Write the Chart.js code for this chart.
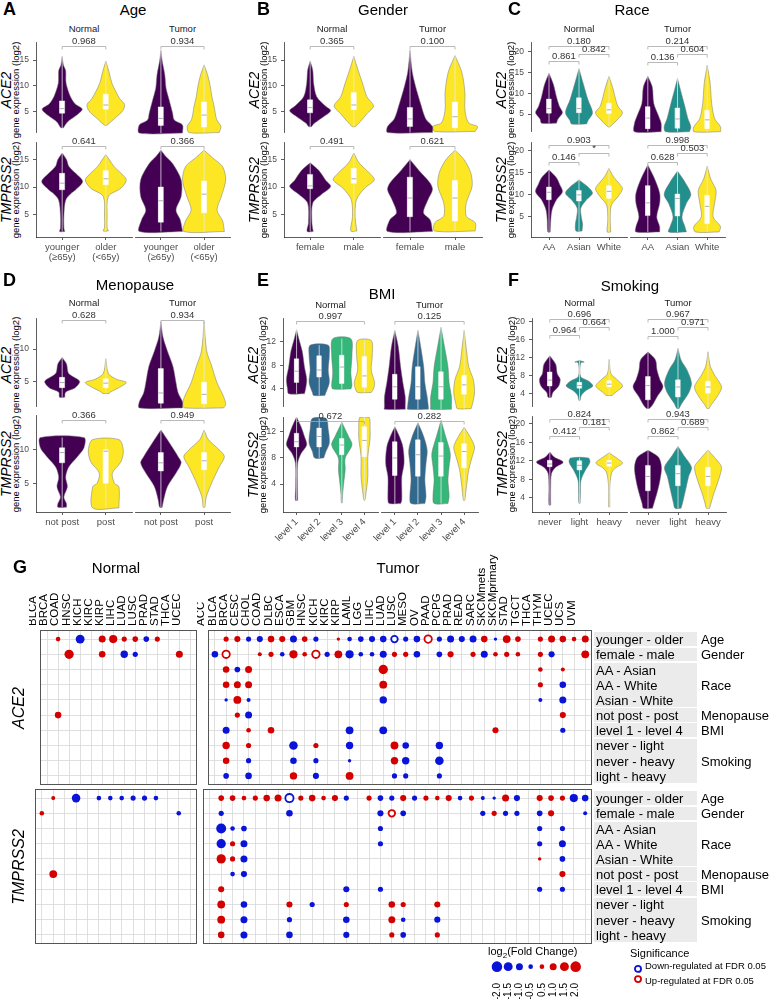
<!DOCTYPE html>
<html>
<head>
<meta charset="utf-8">
<script src="https://cdn.jsdelivr.net/npm/chart.js@4.4.1/dist/chart.umd.min.js"></script>
<style>
html,body{margin:0;padding:0;background:#fff}
body{position:relative;width:772px;height:1002px;overflow:hidden;font-family:"Liberation Sans",Arial,sans-serif;color:#000}
canvas{position:absolute}
.t{position:absolute;white-space:nowrap;line-height:1}
.gb{position:absolute;background:#ebebeb}
</style>
</head>
<body>
<script>
// ---------------- categories ----------------
const ageCats = [['younger','(≥65y)'], ['older','(<65y)']];
const genderCats = ['female','male'];
const raceCats = ['AA','Asian','White'];
const menoCats = ['not post','post'];
const bmiCats = ['level 1','level 2','level 3','level 4'];
const smokeCats = ['never','light','heavy'];

// ---------------- violins: [ [ [value, half width], ... ], [q1, median, q3] ] ----------------
const ageAce2Normal = [
  [[[1.9,.03],[3,.12],[4.2,.31],[5.5,.46],[6.5,.3],[7.9,.19],[10.5,.09],[13,.08],[14,.03],[15.7,0]],[4.7,5.6,7.1]],
  [[[2.4,.03],[3.6,.19],[5.2,.39],[6.4,.43],[7.5,.32],[8.9,.23],[10.5,.14],[12.5,.08],[14.8,0]],[5.5,6.3,8.4]]];
const ageAce2Tumor = [
  [[[1.8,.5],[3.3,.5],[4.2,.31],[5.5,.27],[7.9,.19],[10,.12],[12.5,.09],[15,.03],[17,0]],[3.2,4.5,6.6]],
  [[[1.9,.35],[3,.39],[4.3,.29],[6.8,.23],[8.5,.18],[10.5,.14],[12.5,.08],[14.3,0]],[2.9,5.1,7.5]]];
const ageTmprss2Normal = [
  [[[1.9,.06],[2.5,.04],[4.9,.04],[7.6,.08],[8.8,.2],[9.5,.31],[11,.47],[12.5,.31],[13.8,.15],[15,.1],[16.2,0]],[9.5,10.7,12.5]],
  [[[2,.06],[2.6,.03],[4.6,.03],[8.3,.06],[9.8,.35],[11.3,.47],[12.5,.35],[13.7,.19],[15,.08],[15.9,0]],[10.4,11.5,13.0]]];
const ageTmprss2Tumor = [
  [[[1.9,.5],[4,.45],[5.8,.35],[8.3,.47],[11.3,.47],[14.3,.27],[15.5,.12],[16.7,0]],[3.6,7.5,10.0]],
  [[[1.9,.47],[3.8,.43],[5.8,.3],[8.3,.4],[11.3,.5],[13.7,.43],[15.3,.2],[16.7,0]],[5.3,8.7,11.1]]];

const genderAce2Normal = [
  [[[2.1,.03],[2.8,.1],[4,.3],[5.2,.47],[6.1,.35],[7.9,.15],[10.5,.08],[13,.06],[14.8,0]],[4.8,5.8,7.3]],
  [[[2.1,.03],[3.1,.15],[4.6,.3],[6.1,.45],[7.9,.3],[10.5,.2],[13,.1],[15.7,0]],[5.4,6.3,8.7]]];
const genderAce2Tumor = [
  [[[1.9,.5],[3,.5],[4.4,.35],[6.8,.25],[10.5,.12],[13,.05],[17,0]],[3.0,4.4,6.5]],
  [[[2.1,.45],[3,.5],[3.7,.3],[6.1,.22],[9.3,.22],[13,.15],[16,0]],[2.8,4.8,7.5]]];
const genderTmprss2Normal = [
  [[[1.9,.07],[3.5,.04],[7.1,.06],[8.6,.25],[10.1,.47],[11.3,.35],[13,.2],[14.4,0]],[9.7,10.2,12.3]],
  [[[2,.07],[4.6,.03],[7.7,.06],[9.8,.25],[11.3,.47],[12.6,.35],[14.4,.12],[16.2,0]],[10.7,11.5,13.4]]];
const genderTmprss2Tumor = [
  [[[1.9,.5],[4,.45],[5.3,.3],[7.7,.4],[9.5,.5],[10.7,.45],[13,.2],[15,0]],[4.6,8.0,11.8]],
  [[[2,.45],[3.5,.45],[4.7,.25],[7.1,.25],[10.1,.38],[12.6,.35],[15,.2],[16.7,0]],[3.8,8.0,11.2]]];

const raceAce2Normal = [
  [[[2.8,.25],[3.8,.3],[5.3,.45],[6.8,.35],[9.1,.25],[12.1,.15],[14.8,0]],[5.2,6.3,8.6]],
  [[[2.6,.25],[3.4,.3],[5.3,.45],[8.4,.3],[12.1,.15],[15.9,0]],[5.3,6.3,8.9]],
  [[[1.9,.03],[3.8,.3],[5.3,.45],[6.8,.3],[9.1,.2],[11.4,.12],[14,0]],[5.1,6.0,7.6]]];
const raceAce2Tumor = [
  [[[1.9,.45],[3.8,.45],[5.7,.35],[8.4,.2],[12.1,.15],[14.5,0]],[2.6,5.0,7.6]],
  [[[1.9,.4],[3,.45],[4.9,.35],[7.6,.25],[11.4,.1],[14,0]],[2.7,4.8,7.3]],
  [[[1.9,.45],[3,.45],[4.9,.25],[8.4,.15],[12.9,.1],[17,0]],[2.6,4.6,6.8]]];
const raceTmprss2Normal = [
  [[[1.6,.04],[4.3,.06],[6.6,.1],[8.9,.25],[10.7,.45],[12.5,.35],[13.9,.25],[15.7,0]],[8.9,10.6,11.8]],
  [[[1.8,.1],[3.4,.12],[4.9,.08],[7,.06],[8.9,.25],[10.4,.45],[11.8,.3],[13.4,0]],[8.6,10.0,11.0]],
  [[[1.6,.06],[4.3,.04],[7.7,.08],[9.6,.3],[11.4,.45],[12.5,.35],[14.1,.15],[16,0]],[9.2,10.8,12.1]]];
const raceTmprss2Tumor = [
  [[[1.6,.4],[2.8,.4],[5,.3],[8.1,.4],[10.4,.4],[14.1,.2],[16.8,0]],[5.3,8.2,12.1]],
  [[[1.6,.3],[2.8,.25],[5,.15],[8.1,.3],[10.1,.45],[12.9,.25],[15.4,0]],[5.2,9.2,10.2]],
  [[[1.6,.4],[2.8,.45],[5,.2],[8.1,.25],[11,.3],[13.6,.12],[16.5,0]],[3.5,7.4,9.9]]];

const menoAce2Normal = [
  [[[2.5,.06],[3.3,.08],[4,.3],[5,.4],[6.2,.15],[7.7,.1],[8.7,0]],[4.0,4.8,5.6]],
  [[[3.1,.08],[3.3,.1],[4,.3],[4.8,.47],[5.3,.25],[6.2,.06],[8.5,0]],[4.0,4.7,5.4]]];
const menoAce2Tumor = [
  [[[1.6,.5],[2.5,.5],[3.8,.4],[5.3,.35],[7.7,.28],[10,.15],[12,.05],[14.3,0]],[2.3,3.8,7.4]],
  [[[1.6,.45],[2.1,.5],[3.3,.45],[5.3,.3],[7.7,.18],[10,.06],[14.3,0]],[2.2,3.6,5.4]]];
const menoTmprss2Normal = [
  [[[1.6,.1],[2.1,.1],[3.1,.04],[4.6,.12],[6,.08],[7.5,.15],[9,.35],[10.3,.5],[11.8,.5]],[8.1,9.6,10.3]],
  [[[1.5,.3],[4.6,.3],[5.1,.2],[6.6,.15],[8.3,.35],[10,.4],[11.5,.3]],[5.1,9.8,10.0]]];
const menoTmprss2Tumor = [
  [[[1.6,.03],[2.6,.06],[4.6,.15],[6.6,.35],[8.1,.47],[9,.4],[11,.2],[12.9,0]],[6.9,8.1,9.6]],
  [[[1.6,.02],[3.1,.05],[5.5,.2],[7.5,.35],[9,.47],[10,.35],[11.5,.1],[12.9,0]],[7.1,8.4,9.6]]];

const bmiAce2Normal = [
  [[[3.2,.35],[4,.4],[5.6,.45],[7.7,.35],[10.4,.25],[12.5,.1],[14,0]],[5.1,7.0,9.1]],
  [[[2.9,.25],[3.4,.3],[5.1,.45],[7.2,.4],[9.8,.45],[11.4,.4]],[6.0,7.2,9.6]],
  [[[4,.4],[4.6,.45],[6.7,.4],[9.8,.45],[12.5,.4]],[4.9,7.7,9.7]],
  [[[3.4,.3],[4,.4],[5.1,.45],[7.2,.3],[9.8,.35],[12.2,.3]],[4.3,6.2,9.5]]];
const bmiAce2Tumor = [
  [[[1.4,.45],[1.8,.45],[3.4,.45],[5.6,.35],[8.2,.25],[11.4,.15],[14,0]],[3.0,5.0,7.0]],
  [[[1.4,.45],[1.8,.45],[3.4,.4],[5.6,.3],[8.2,.25],[11.4,.12],[14,0]],[3.0,5.0,8.2]],
  [[[1.4,.45],[1.8,.45],[3.4,.45],[5.6,.35],[8.2,.3],[11.4,.15],[14.5,0]],[3.0,5.0,7.4]],
  [[[1.5,.3],[2.1,.35],[4,.45],[6.1,.4],[8.2,.2],[10.9,.1],[14,0]],[3.8,5.3,6.8]]];
const bmiTmprss2Normal = [
  [[[1.5,.05],[3.6,.04],[7.2,.05],[8.7,.2],[10,.45],[11.3,.35],[12.8,.2],[14.3,0]],[9.7,10.5,11.8]],
  [[[8,.2],[9,.3],[10.3,.45],[12.4,.4],[14.1,.3]],[9.7,11.3,12.6]],
  [[[1.1,.02],[2.6,.04],[4.6,.1],[6.2,.15],[8,.15],[10,.45],[11.3,.3],[13.5,0]],[8.5,10.0,11.0]],
  [[[1.5,.02],[2.1,.05],[5.1,.15],[8.2,.15],[11,.25],[12.4,.25],[14.3,.2]],[8.2,10.7,12.8]]];
const bmiTmprss2Tumor = [
  [[[1,.25],[1.5,.3],[3.1,.3],[5.1,.3],[7.2,.4],[9.7,.35],[11.3,.2],[12.8,0]],[5.3,8.0,10.5]],
  [[[1,.3],[2.1,.35],[4.6,.3],[7.2,.35],[9.2,.4],[11.3,.25],[13.4,0]],[5.2,8.5,10.8]],
  [[[1,.3],[2.1,.35],[4.6,.3],[6.7,.35],[8.7,.4],[11.3,.2],[13.8,0]],[5.2,8.3,10.4]],
  [[[1.5,.03],[3.6,.1],[6.2,.2],[8.2,.35],[9.7,.45],[11.3,.25],[12.7,0]],[6.5,9.0,10.2]]];

const smokeAce2Normal = [
  [[[3.2,.06],[4.2,.1],[5.7,.3],[7.2,.35],[8.4,.25],[10.5,.2],[12.4,0]],[5.7,7.0,8.8]],
  [[[2.5,.02],[3.6,.06],[4.6,.2],[5.7,.45],[6.8,.3],[7.8,.04],[10.8,.04],[11,.16],[11.3,.02]],[5.2,5.8,6.5]],
  [[[3.6,.1],[4.2,.2],[5.7,.45],[7.2,.25],[8.4,.06],[11.6,0]],[5.5,6.1,6.9]]];
const smokeAce2Tumor = [
  [[[1.8,.05],[2.5,.15],[4.2,.3],[6.3,.5],[7.8,.4],[9.9,.3],[12,.25],[13.7,0]],[3.6,6.6,8.5]],
  [[[1.8,.04],[2.8,.12],[5,.35],[7.1,.45],[9.9,.3],[12,.1],[14.4,0]],[4.2,6.3,7.8]],
  [[[1.8,.04],[2.5,.1],[4.2,.3],[6.3,.45],[8.5,.25],[10.6,.08],[13.7,0]],[5.0,6.3,7.5]]];
const smokeTmprss2Normal = [
  [[[2.4,.03],[6.3,.03],[9.3,.06],[10.6,.2],[11.7,.45],[12.8,.15],[13.9,0]],[10.7,11.3,12.1]],
  [[[2.8,.02],[5,.03],[7.8,.05],[10,.2],[11.7,.35],[12.6,.3]],[10.0,11.0,12.0]],
  [[[2,.02],[6.3,.02],[9.3,.08],[10.4,.2],[11.5,.45],[12.6,.25],[13.7,0]],[10.8,11.5,12.1]]];
const smokeTmprss2Tumor = [
  [[[1.7,.15],[2.8,.2],[5,.3],[7.8,.4],[10.6,.45],[12.8,.35],[14.3,0]],[5.5,8.6,11.0]],
  [[[1.7,.1],[2.8,.15],[5.6,.25],[8.5,.35],[10.6,.45],[13.1,.2],[15.1,0]],[6.6,9.2,11.0]],
  [[[1.7,.05],[2.8,.1],[5,.2],[7.8,.35],[10.6,.45],[12.1,.3],[14.3,0]],[6.6,8.6,10.6]]];

// ---------------- p-values: [ACE2 normal, ACE2 tumor, TMPRSS2 normal, TMPRSS2 tumor] ----------------
const ageP = [['0.968'],['0.934'],['0.641'],['0.366']];
const genderP = [['0.365'],['0.100'],['0.491'],['0.621']];
const raceP = [['0.180','0.842','0.861'],['0.214','0.604','0.136'],['0.903','*','0.146'],['0.998','0.503','0.628']];
const menoP = [['0.628'],['0.934'],['0.366'],['0.949']];
const bmiP = [['0.997'],['0.125'],['0.672'],['0.282']];
const smokeP = [['0.696','0.664','0.964'],['0.967','0.971','1.000'],['0.824','0.181','0.412'],['0.943','0.689','0.862']];

// ---------------- panel G: log2 fold changes [cancer type, comparison row, log2FC, significant] ----------------
const normalTypes = ['BLCA','BRCA','COAD','HNSC','KICH','KIRC','KIRP','LIHC','LUAD','LUSC','PRAD','STAD','THCA','UCEC'];
const tumorTypes = ['ACC','BLCA','BRCA','CESC','CHOL','COAD','DLBC','ESCA','GBM','HNSC','KICH','KIRC','KIRP','LAML','LGG','LIHC','LUAD','LUSC','MESO','OV','PAAD','PCPG','PRAD','READ','SARC','SKCMmets','SKCMprimary','STAD','TGCT','THCA','THYM','UCEC','UCS','UVM'];
const comparisons = ['younger - older','female - male','AA - Asian','AA - White','Asian - White','not post - post','level 1 - level 4','never - light','never - heavy','light - heavy'];
const comparisonGroups = [['Age',0,0],['Gender',1,1],['Race',2,4],['Menopause',5,5],['BMI',6,6],['Smoking',7,9]];

const ace2NormalFC = [
  ['BRCA',0,.5],['HNSC',0,-1.5],['KIRC',0,1.0],['KIRP',0,1.3],['LIHC',0,.6],['LUAD',0,.7],['LUSC',0,-.7],['PRAD',0,.6],
  ['COAD',1,1.6],['KIRC',1,.9],['LIHC',1,-1.1],['LUAD',1,-.6],['THCA',1,1.0],
  ['BRCA',5,.9]];
const ace2TumorFC = [
  ['BLCA',0,.6],['BRCA',0,.8],['CESC',0,-.6],['CHOL',0,-.8],['COAD',0,.9],['DLBC',0,.8],['ESCA',0,-1.0],['GBM',0,.7],['HNSC',0,-.6],
  ['KIRC',0,.3],['KIRP',0,-.5],['LAML',0,-.7],['LGG',0,-.8],['LIHC',0,-.9],['LUAD',0,-.9,1],['LUSC',0,-.6],['MESO',0,-.9],['OV',0,1.1,1],
  ['PAAD',0,-.6],['PCPG',0,-1.0],['PRAD',0,-.8],['READ',0,-1.0],['SARC',0,.9],['SKCMmets',0,-.3],['SKCMprimary',0,1.2],['STAD',0,.7],
  ['THCA',0,.6],['THYM',0,1.0],['UCEC',0,.9],['UCS',0,.5],['UVM',0,1.0],
  ['ACC',1,-.9],['BLCA',1,1.1,1],['CHOL',1,.4],['COAD',1,.6],['DLBC',1,-.5],['ESCA',1,1.3],['GBM',1,.5],['HNSC',1,1.1,1],['KICH',1,-.6],
  ['KIRC',1,1.2],['KIRP',1,-1.3],['LAML',1,-.5],['LGG',1,-.5],['LIHC',1,-1.0],['LUAD',1,.6],['LUSC',1,.6],['MESO',1,-.9],['PAAD',1,-.7],
  ['PCPG',1,.8],['READ',1,.6],['SARC',1,-1.0],['SKCMmets',1,.5],['SKCMprimary',1,.6],['STAD',1,.5],['THCA',1,.6],['THYM',1,-.8],['UVM',1,1.2],
  ['BLCA',2,.9],['BRCA',2,-.7],['CESC',2,1.0],['LIHC',2,1.6],['THCA',2,.5],['UCEC',2,.4],
  ['BLCA',3,.9],['BRCA',3,1.0],['CESC',3,1.0],['LIHC',3,1.2],['THCA',3,.6],['UCEC',3,-.9],
  ['BLCA',4,-.3],['BRCA',4,1.2],['CESC',4,-.4],['LIHC',4,-1.1],['THCA',4,-.4],['UCEC',4,-1.0],
  ['BRCA',5,.6],['CESC',5,-1.0],['UCEC',5,.8],
  ['BLCA',6,-1.0],['CESC',6,.5],['COAD',6,.9],['KIRP',6,-1.2],['LIHC',6,-1.2],['SKCMmets',6,.8],['UCEC',6,-.6],
  ['BLCA',7,1.1],['CESC',7,.6],['ESCA',7,-1.4],['HNSC',7,.6],['KIRP',7,-1.1],['LUAD',7,1.2],['LUSC',7,-.9],['PAAD',7,-1.1],
  ['BLCA',8,.9],['CESC',8,-.6],['ESCA',8,-.9],['HNSC',8,-.6],['KIRP',8,-.3],['LUAD',8,1.1],['LUSC',8,-1.1],['PAAD',8,-1.4],
  ['BLCA',9,-.7],['CESC',9,-.9],['ESCA',9,1.1],['HNSC',9,-.8],['KIRP',9,1.2],['LUAD',9,-.6],['LUSC',9,-.6],['PAAD',9,-.6]];
const tmprss2NormalFC = [
  ['BRCA',0,.4],['HNSC',0,-1.4],['KIRC',0,-.5],['KIRP',0,-.5],['LIHC',0,-.5],['LUAD',0,-.6],['LUSC',0,-.6],['PRAD',0,-.5],
  ['BLCA',1,.5],['THCA',1,-.5],
  ['BRCA',5,1.2]];
const tmprss2TumorFC = [
  ['BLCA',0,.7],['BRCA',0,.7],['CESC',0,.5],['CHOL',0,.6],['COAD',0,.9],['DLBC',0,1.0],['ESCA',0,-1.3,1],['GBM',0,.6],['HNSC',0,.9],
  ['KICH',0,.5],['KIRC',0,.8],['KIRP',0,-.6],['LGG',0,.6],['LIHC',0,-.7],['LUAD',0,-.6],['LUSC',0,.8],['MESO',0,-.6],['OV',0,.6],
  ['PAAD',0,.5],['PCPG',0,.8],['PRAD',0,-.5],['READ',0,.6],['SARC',0,-.4],['SKCMmets',0,-.3],['SKCMprimary',0,1.0],['STAD',0,-.8],
  ['THCA',0,.8],['THYM',0,.7],['UCEC',0,.6],['UCS',0,-1.3],['UVM',0,-.9],
  ['BLCA',1,-.6],['ESCA',1,-.9],['LIHC',1,-.8],['LUAD',1,.9,1],['LUSC',1,-.7],['SARC',1,-.6],['SKCMmets',1,.6],['SKCMprimary',1,-.6],
  ['STAD',1,-.6],['THCA',1,-.7],['THYM',1,.8],['UVM',1,-.4],
  ['BLCA',2,-1.8],['BRCA',2,-.5],['CESC',2,-.7],['LIHC',2,-.6],['THCA',2,-.6],['UCEC',2,-.6],
  ['BLCA',3,-1.6],['BRCA',3,.6],['CESC',3,-1.0],['LIHC',3,-.6],['THCA',3,-.6],['UCEC',3,-1.0],
  ['BLCA',4,1.6],['BRCA',4,.6],['CESC',4,-1.0],['THCA',4,.3],['UCEC',4,-.7],
  ['BRCA',5,-.5],['CESC',5,-.8],['UCEC',5,.8],
  ['BLCA',6,.8],['KIRP',6,-.8],['LIHC',6,-.6],['THCA',6,-.6],['UCEC',6,-.6],
  ['BLCA',7,1.2],['CESC',7,-.9],['ESCA',7,.8],['HNSC',7,-.6],['KIRP',7,.6],['LUAD',7,.9],['LUSC',7,.6],['PAAD',7,.8],
  ['BLCA',8,1.2],['CESC',8,-1.0],['ESCA',8,-.6],['KIRP',8,-.9],['LUAD',8,1.0],['LUSC',8,-.5],['PAAD',8,-.8],
  ['BLCA',9,.9],['CESC',9,-1.0],['ESCA',9,-.9],['KIRP',9,-.8],['LUAD',9,.6],['LUSC',9,-.7],['PAAD',9,.6]];
const legendFC = [-2.0,-1.5,-1.0,-0.5,0.5,1.0,1.5,2.0];
const legendSig = [-1, 1];

// ---------------- helpers ----------------
const FONT = '"Liberation Sans", Arial, sans-serif';
Chart.defaults.font.family = FONT;
const base = {responsive:false, animation:false, devicePixelRatio:1, events:[],
  plugins:{legend:{display:false}, tooltip:{enabled:false}}};

function makeCanvas(l, t, w, h) {
  const c = document.createElement('canvas');
  c.width = w; c.height = h;
  c.style.cssText = `left:${l}px;top:${t}px;width:${w}px;height:${h}px`;
  document.body.appendChild(c);
  return c;
}
function txt(s, x, y, css, tf) {
  const d = document.createElement('div');
  d.className = 't';
  d.innerHTML = s;
  d.style.cssText = `left:${x}px;top:${y}px;${css || ''}`;
  if (tf) d.style.transform = tf;
  document.body.appendChild(d);
  return d;
}
const center = 'translate(-50%,-50%)';
const vcenter = 'translate(0,-50%)';
const rot = 'translate(-50%,-50%) rotate(-90deg)';

function bracketPlugin(list) {
  return {id:'brackets', afterDraw(chart) {
    const {ctx} = chart, x = chart.scales.x, y = chart.scales.y;
    ctx.save();
    list.forEach(b => {
      const xa = x.getPixelForValue(b.a), xb = x.getPixelForValue(b.b);
      const yy = Math.round(y.getPixelForValue(b.y)) + 0.5;
      ctx.strokeStyle = '#a8a8a8'; ctx.lineWidth = 0.8;
      ctx.beginPath(); ctx.moveTo(xa, yy + 3); ctx.lineTo(xa, yy); ctx.lineTo(xb, yy); ctx.lineTo(xb, yy + 3); ctx.stroke();
      ctx.fillStyle = '#333'; ctx.font = '9.5px ' + FONT;
      ctx.textAlign = 'center'; ctx.textBaseline = 'bottom';
      ctx.fillText(b.t, (xa + xb) / 2, yy - 0.5);
    });
    ctx.restore();
  }};
}

// ---------------- panels A-F ----------------
const purpleYellow = ['#440154','#FDE725'];
const viridis3 = ['#440154','#21908C','#FDE725'];
const viridis4 = ['#440154','#31688E','#35B779','#FDE725'];
const pair2 = [[0,1]], pair3 = [[0,2],[1,2],[0,1]], pair4 = [[0,3]];

const panels = [
  {L:'A', title:'Age', tx:133, ty:9, lx:3, ly:9, fy:29, ax:36, facets:[[36,132],[135,230]], rows:[[42,138],[142,237]],
   yr:[[0.9,18.5],[0.9,18.2]], yt:[[5,10,15],[5,10,15]], cats:ageCats, cols:purpleYellow,
   data:[[ageAce2Normal,ageAce2Tumor],[ageTmprss2Normal,ageTmprss2Tumor]], pv:ageP, pairs:pair2, by:[[17.7],[17.5]], bw:.057},
  {L:'B', title:'Gender', tx:383, ty:9, lx:257, ly:9, fy:29, ax:284, facets:[[284,380],[383,482]], rows:[[42,138],[142,237]],
   yr:[[0.9,18.5],[0.9,18.2]], yt:[[5,10,15],[5,10,15]], cats:genderCats, cols:purpleYellow,
   data:[[genderAce2Normal,genderAce2Tumor],[genderTmprss2Normal,genderTmprss2Tumor]], pv:genderP, pairs:pair2, by:[[17.7],[17.5]], bw:.057},
  {L:'C', title:'Race', tx:632, ty:9, lx:508, ly:9, fy:29, ax:531, facets:[[531,627],[630,725]], rows:[[42,137],[142,237]],
   yr:[[0.7,22.3],[0.45,22.0]], yt:[[5,10,15,20],[5,10,15,20]], cats:raceCats, cols:viridis3,
   data:[[raceAce2Normal,raceAce2Tumor],[raceTmprss2Normal,raceTmprss2Tumor]], pv:raceP, pairs:pair3, by:[[21.4,19.5,17.7],[21.4,19.5,17.5]], bw:.075},
  {L:'D', title:'Menopause', tx:135, ty:284, lx:3, ly:280, fy:303, ax:36, facets:[[36,132],[135,230]], rows:[[318,412],[415,512]],
   yr:[[1.0,14.85],[0.9,15.1]], yt:[[5,10],[5,10]], cats:menoCats, cols:purpleYellow,
   data:[[menoAce2Normal,menoAce2Tumor],[menoTmprss2Normal,menoTmprss2Tumor]], pv:menoP, pairs:pair2, by:[[14.5],[14.4]], bw:.057},
  {L:'E', title:'BMI', tx:382, ty:293, lx:257, ly:280, fy:305, ax:283, facets:[[283,378],[381,478]], rows:[[318,412],[417,512]],
   yr:[[0.96,16.0],[-0.3,14.3]], yt:[[4,8,12],[4,8,12]], cats:bmiCats, cols:viridis4, rotX:true,
   data:[[bmiAce2Normal,bmiAce2Tumor],[bmiTmprss2Normal,bmiTmprss2Tumor]], pv:bmiP, pairs:pair4, by:[[15.5],[13.7]], bw:.095},
  {L:'F', title:'Smoking', tx:630, ty:285, lx:508, ly:280, fy:303, ax:532, facets:[[532,627],[630,726]], rows:[[318,412],[416,512]],
   yr:[[1.05,20.8],[0.9,21.7]], yt:[[4,8,12,16,20],[4,8,12,16,20]], cats:smokeCats, cols:viridis3,
   data:[[smokeAce2Normal,smokeAce2Tumor],[smokeTmprss2Normal,smokeTmprss2Tumor]], pv:smokeP, pairs:pair3, by:[[20.6,18.9,17.1],[21.1,19.3,17.4]], bw:.075}
];

function violinFacet(P, r, f) {
  const [x0, x1] = P.facets[f], [y0, y1] = P.rows[r];
  const showY = f === 0, showX = r === 1;
  const yw = showY ? 24 : 0, xh = showX ? (P.rotX ? 34 : 26) : 0;
  const pad = {left:30, right:30, top:26, bottom:4};
  const cv = makeCanvas(x0 - yw - pad.left, y0 - pad.top, x1 - x0 + yw + pad.left + pad.right, y1 - y0 + xh + pad.top + pad.bottom);
  const n = P.cats.length;
  const datasets = [];
  P.data[r][f].forEach(([prof, box], i) => {
    const right = prof.map(([v, w]) => ({x:i + w, y:v}));
    const left = prof.slice().reverse().map(([v, w]) => ({x:i - w, y:v}));
    const poly = right.concat(left, [right[0]]);
    datasets.push({data:poly, showLine:true, fill:'shape', backgroundColor:P.cols[i], borderColor:'#777',
      borderWidth:0.5, pointRadius:0, tension:0.3, order:4});
    datasets.push({data:[{x:i, y:prof[0][0]}, {x:i, y:prof[prof.length - 1][0]}], showLine:true,
      borderColor:'rgba(235,235,235,0.95)', borderWidth:0.8, pointRadius:0, order:3});
    const b = P.bw;
    datasets.push({data:[{x:i - b, y:box[0]}, {x:i + b, y:box[0]}, {x:i + b, y:box[2]}, {x:i - b, y:box[2]}, {x:i - b, y:box[0]}],
      showLine:true, fill:'shape', backgroundColor:'#fff', borderColor:'#fff', borderWidth:0.4, pointRadius:0, order:2});
    datasets.push({data:[{x:i - b, y:box[1]}, {x:i + b, y:box[1]}], showLine:true, borderColor:'#9a9a9a',
      borderWidth:0.8, pointRadius:0, order:1});
  });
  const brackets = P.pairs.map((p, k) => ({a:p[0], b:p[1], y:P.by[r][k], t:P.pv[r * 2 + f][k]}));
  const axisGrid = {display:true, drawOnChartArea:false, drawTicks:true, tickLength:3, color:'#333', lineWidth:0.8};
  new Chart(cv, {
    type:'scatter',
    data:{datasets},
    options:Object.assign({}, base, {
      layout:{padding:pad},
      scales:{
        x:{type:'linear', min:-0.6, max:n - 0.4, display:showX,
           afterBuildTicks:s => { s.ticks = P.cats.map((c, i) => ({value:i})); },
           afterFit:s => { s.height = xh; },
           grid:axisGrid, border:{display:true, color:'#333', width:0.8},
           ticks:{autoSkip:false, padding:2, color:'#4d4d4d', font:{size:9.5, lineHeight:1.05},
                  maxRotation:P.rotX ? 45 : 0, minRotation:P.rotX ? 45 : 0,
                  callback:v => P.cats[v]}},
        y:{type:'linear', min:P.yr[r][0], max:P.yr[r][1], display:showY,
           afterBuildTicks:s => { s.ticks = P.yt[r].map(v => ({value:v})); },
           afterFit:s => { s.width = yw; },
           grid:axisGrid, border:{display:true, color:'#333', width:0.8},
           ticks:{padding:4, color:'#4d4d4d', font:{size:8.5}}}
      }
    }),
    plugins:[bracketPlugin(brackets)]
  });
}

panels.forEach(P => {
  txt(P.L, P.lx, P.ly, 'font-size:18px;font-weight:bold', vcenter);
  txt(P.title, P.tx, P.ty, 'font-size:15px', center);
  ['Normal','Tumor'].forEach((s, f) => txt(s, (P.facets[f][0] + P.facets[f][1]) / 2, P.fy, 'font-size:9.5px;color:#1a1a1a', center));
  ['ACE2','TMPRSS2'].forEach((g, r) => {
    const cy = (P.rows[r][0] + P.rows[r][1]) / 2;
    txt(g, P.ax - 30, cy, 'font-size:14px;font-style:italic', rot);
    txt('gene expression (log2)', P.ax - 20, cy, 'font-size:9.5px', rot);
  });
  for (let r = 0; r < 2; r++) for (let f = 0; f < 2; f++) violinFacet(P, r, f);
});

// ---------------- panel G ----------------
const red = '#d40000', blue = '#0a14d8';
const dotColor = v => v > 0 ? red : blue;
const dotSize = v => 3.5 * Math.pow(Math.abs(v), 0.6);

function framePlugin() {
  return {id:'frame', afterDraw(chart) {
    const a = chart.chartArea, ctx = chart.ctx;
    ctx.save(); ctx.strokeStyle = '#555'; ctx.lineWidth = 1;
    ctx.strokeRect(Math.round(a.left) + 0.5, Math.round(a.top) + 0.5, Math.round(a.right - a.left) - 1, Math.round(a.bottom - a.top) - 1);
    ctx.restore();
  }};
}
const pointStyle = {
  radius:c => c.raw ? dotSize(c.raw.fc) : 3,
  backgroundColor:c => c.raw ? (c.raw.sig ? '#fff' : dotColor(c.raw.fc)) : red,
  borderColor:c => c.raw ? dotColor(c.raw.fc) : red,
  borderWidth:c => c.raw && c.raw.sig ? 1.8 : 0};

function bubbleGrid(x0, x1, y0, y1, types, entries, showLabels) {
  const xh = showLabels ? 80 : 0, p = 6;
  const cv = makeCanvas(x0 - p, y0 - xh - p, x1 - x0 + 2 * p, y1 - y0 + xh + 2 * p);
  const gridOpt = {color:'#d8d8d8', lineWidth:0.8, drawTicks:false};
  new Chart(cv, {
    type:'bubble',
    data:{datasets:[{data:entries.map(e => ({x:types.indexOf(e[0]), y:e[1], fc:e[2], sig:!!e[3]}))}]},
    options:Object.assign({}, base, {
      layout:{padding:p},
      elements:{point:pointStyle},
      scales:{
        x:{type:'linear', position:'top', min:-0.6, max:types.length - 0.4,
           afterBuildTicks:s => { s.ticks = types.map((t, i) => ({value:i})); },
           afterFit:s => { s.height = xh; },
           grid:gridOpt, border:{display:false},
           ticks:{display:showLabels, autoSkip:false, minRotation:90, maxRotation:90, padding:4, color:'#000',
                  font:{size:11.5}, callback:v => types[v]}},
        y:{type:'linear', min:-0.6, max:comparisons.length - 0.4, reverse:true,
           afterBuildTicks:s => { s.ticks = comparisons.map((c, i) => ({value:i})); },
           afterFit:s => { s.width = 0; },
           grid:gridOpt, border:{display:false}, ticks:{display:false}}
      }
    }),
    plugins:[framePlugin()]
  });
}

const blocks = [{top:630, bottom:785, gene:'ACE2', normal:ace2NormalFC, tumor:ace2TumorFC},
                {top:789, bottom:944, gene:'TMPRSS2', normal:tmprss2NormalFC, tumor:tmprss2TumorFC}];
txt('G', 13, 567, 'font-size:18px;font-weight:bold', vcenter);
txt('Normal', 116, 567, 'font-size:15px', center);
txt('Tumor', 398, 567, 'font-size:15px', center);
blocks.forEach((B, k) => {
  bubbleGrid(35, 197, B.top, B.bottom, normalTypes, B.normal, k === 0);
  bubbleGrid(203, 592, B.top, B.bottom, tumorTypes, B.tumor, k === 0);
  txt(B.gene, 19, (B.top + B.bottom) / 2, 'font-size:16px;font-style:italic', rot);
  const step = (B.bottom - B.top) / (comparisons.length + 0.2);
  const rowY = i => B.top + (i + 0.6) * step;
  comparisonGroups.forEach(([name, a, b]) => {
    const top = rowY(a) - step / 2 + 0.8, bot = rowY(b) + step / 2 - 0.8;
    const d = document.createElement('div');
    d.className = 'gb';
    d.style.cssText = `left:594px;top:${top}px;width:103px;height:${bot - top}px`;
    document.body.appendChild(d);
    txt(name, 701, (rowY(a) + rowY(b)) / 2, 'font-size:13px', vcenter);
  });
  comparisons.forEach((c, i) => txt(c, 596, rowY(i), 'font-size:13px', vcenter));
});

// ---------------- legend ----------------
txt('log<sub style="font-size:8px">2</sub>(Fold Change)', 488, 953, 'font-size:11px', vcenter);
(function () {
  const x0 = 490, x1 = 586, y0 = 959, y1 = 973, xh = 26, p = 4;
  const cv = makeCanvas(x0 - p, y0 - p, x1 - x0 + 2 * p, y1 - y0 + xh + 2 * p);
  new Chart(cv, {
    type:'bubble',
    data:{datasets:[{data:legendFC.map((v, i) => ({x:i, y:0, fc:v}))}]},
    options:Object.assign({}, base, {
      layout:{padding:p},
      elements:{point:pointStyle},
      scales:{
        x:{type:'linear', min:-0.5, max:legendFC.length - 0.5,
           afterBuildTicks:s => { s.ticks = legendFC.map((v, i) => ({value:i})); },
           afterFit:s => { s.height = xh; },
           grid:{display:false}, border:{display:false},
           ticks:{autoSkip:false, minRotation:90, maxRotation:90, padding:2, color:'#000', font:{size:10},
                  callback:v => legendFC[v].toFixed(1)}},
        y:{type:'linear', min:-1, max:1, display:false}
      }
    })
  });
})();
txt('Significance', 630, 953, 'font-size:11px', vcenter);
(function () {
  const cv = makeCanvas(628, 958, 20, 32);
  new Chart(cv, {
    type:'bubble',
    data:{datasets:[{data:legendSig.map((v, i) => ({x:0, y:i, fc:v * 0.8, sig:true}))}]},
    options:Object.assign({}, base, {
      layout:{padding:2},
      elements:{point:pointStyle},
      scales:{x:{type:'linear', min:-1, max:1, display:false},
              y:{type:'linear', min:-0.5, max:1.5, reverse:true, display:false}}
    })
  });
})();
txt('Down-regulated at FDR 0.05', 645, 966, 'font-size:9.5px', vcenter);
txt('Up-regulated at FDR 0.05', 645, 981, 'font-size:9.5px', vcenter);
</script>
</body>
</html>
